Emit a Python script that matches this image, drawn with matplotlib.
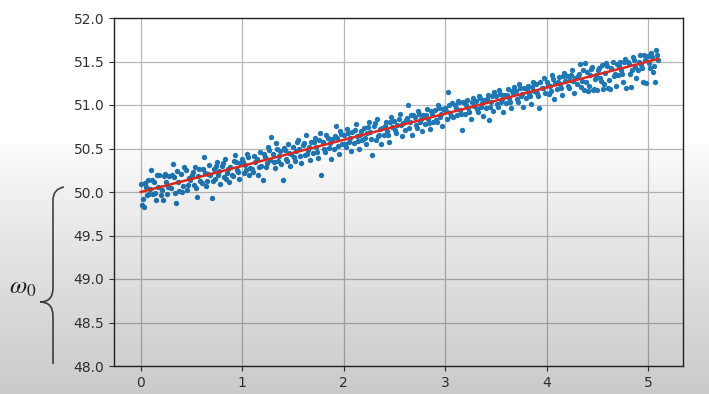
import numpy as np
import matplotlib
matplotlib.use("Agg")
import matplotlib.pyplot as plt
from matplotlib.path import Path
from matplotlib.patches import PathPatch

plt.rcParams["mathtext.fontset"] = "stix"

# measured samples: time t and value omega
t_obs = [
    0.00, 0.01, 0.02, 0.03, 0.05, 0.07, 0.08,
    0.10, 0.12, 0.13, 0.15, 0.17, 0.18,
    0.20, 0.22, 0.23, 0.25, 0.27, 0.28,
    0.30, 0.32, 0.33, 0.35, 0.37, 0.38,
    0.40, 0.42, 0.43, 0.45, 0.47, 0.48,
    0.50, 0.52, 0.53, 0.55, 0.57, 0.58,
    0.60, 0.62, 0.63, 0.65, 0.67, 0.68,
    0.70, 0.72, 0.73, 0.75, 0.77, 0.78,
    0.80, 0.82, 0.83, 0.85, 0.87, 0.88,
    0.90, 0.92, 0.93, 0.95, 0.97, 0.98,
    1.00, 1.02, 1.03, 1.05, 1.07, 1.08,
    1.10, 1.12, 1.13, 1.15, 1.17, 1.18,
    1.20, 1.22, 1.23, 1.25, 1.27, 1.28,
    1.30, 1.32, 1.33, 1.35, 1.37, 1.38,
    1.40, 1.42, 1.43, 1.45, 1.47, 1.48,
    1.50, 1.52, 1.53, 1.55, 1.57, 1.58,
    1.60, 1.62, 1.63, 1.65, 1.67, 1.68,
    1.70, 1.72, 1.73, 1.75, 1.77, 1.78,
    1.80, 1.82, 1.83, 1.85, 1.87, 1.88,
    1.90, 1.92, 1.93, 1.95, 1.97, 1.98,
    2.00, 2.02, 2.03, 2.05, 2.07, 2.08,
    2.10, 2.12, 2.13, 2.15, 2.17, 2.18,
    2.20, 2.22, 2.23, 2.25, 2.27, 2.28,
    2.30, 2.32, 2.33, 2.35, 2.37, 2.38,
    2.40, 2.42, 2.43, 2.45, 2.47, 2.48,
    2.50, 2.52, 2.53, 2.55, 2.57, 2.58,
    2.60, 2.62, 2.63, 2.65, 2.67, 2.68,
    2.70, 2.72, 2.73, 2.75, 2.77, 2.78,
    2.80, 2.82, 2.83, 2.85, 2.87, 2.88,
    2.90, 2.92, 2.93, 2.95, 2.97, 2.98,
    3.00, 3.02, 3.03, 3.05, 3.07, 3.08,
    3.10, 3.12, 3.13, 3.15, 3.17, 3.18,
    3.20, 3.22, 3.23, 3.25, 3.27, 3.28,
    3.30, 3.32, 3.33, 3.35, 3.37, 3.38,
    3.40, 3.42, 3.43, 3.45, 3.47, 3.48,
    3.50, 3.52, 3.53, 3.55, 3.57, 3.58,
    3.60, 3.62, 3.63, 3.65, 3.67, 3.68,
    3.70, 3.72, 3.73, 3.75, 3.77, 3.78,
    3.80, 3.82, 3.83, 3.85, 3.87, 3.88,
    3.90, 3.92, 3.93, 3.95, 3.97, 3.98,
    4.00, 4.02, 4.03, 4.05, 4.07, 4.08,
    4.10, 4.12, 4.13, 4.15, 4.17, 4.18,
    4.20, 4.22, 4.23, 4.25, 4.27, 4.28,
    4.30, 4.32, 4.33, 4.35, 4.37, 4.38,
    4.40, 4.41, 4.42, 4.43, 4.45, 4.46, 4.47, 4.48,
    4.50, 4.52, 4.53, 4.55, 4.56, 4.57, 4.58,
    4.60, 4.61, 4.62, 4.63, 4.65, 4.67, 4.68,
    4.70, 4.72, 4.73, 4.75, 4.77, 4.78,
    4.80, 4.82, 4.83, 4.85, 4.87, 4.88,
    4.90, 4.92, 4.93, 4.95, 4.97, 4.98,
    5.00, 5.02, 5.03, 5.05, 5.07, 5.08, 5.10,
    0.04, 0.06, 0.09, 0.11, 0.14, 0.16, 0.21, 0.24, 0.26,
    0.31, 0.34, 0.36, 0.41, 0.44, 0.46, 0.51, 0.54, 0.56,
    0.61, 0.64, 0.66, 0.71, 0.74, 0.76, 0.81, 0.84, 0.86,
    0.91, 0.94, 0.96, 1.01, 1.04, 1.06, 1.11, 1.14, 1.16,
    1.21, 1.24, 1.26, 1.31, 1.34, 1.36, 1.41, 1.44, 1.46,
    1.51, 1.54, 1.56, 1.61, 1.64, 1.66, 1.71, 1.74, 1.76,
    1.81, 1.84, 1.86, 1.91, 1.94, 1.96, 2.01, 2.04, 2.06,
    2.11, 2.14, 2.16, 2.21, 2.24, 2.26, 2.31, 2.34, 2.36,
    2.41, 2.44, 2.46, 2.51, 2.54, 2.56, 2.61, 2.64, 2.66,
    2.71, 2.74, 2.76, 2.81, 2.84, 2.86, 2.91, 2.94, 2.96,
    3.01, 3.04, 3.06, 3.11, 3.14, 3.16, 3.21, 3.24, 3.26,
    3.31, 3.34, 3.36, 3.41, 3.44, 3.46, 3.51, 3.54, 3.56,
    3.61, 3.64, 3.66, 3.71, 3.74, 3.76, 3.81, 3.84, 3.86,
    3.91, 3.94, 3.96, 4.01, 4.04, 4.06, 4.11, 4.14, 4.16,
    4.21, 4.24, 4.26, 4.31, 4.34, 4.36, 4.39, 4.44, 4.49,
    4.51, 4.54, 4.59, 4.64, 4.66, 4.69, 4.71, 4.74, 4.76,
    4.81, 4.84, 4.86, 4.91, 4.94, 4.96, 5.01, 5.04, 5.06, 5.09,
]

omega_obs = [
    50.09, 49.85, 49.92, 49.83, 50.06, 50.14, 49.98,
    50.25, 49.98, 50.11, 49.91, 50.06, 50.19,
    49.97, 49.91, 50.18, 50.11, 50.06, 50.18,
    50.05, 50.32, 50.17, 49.87, 50.12, 50.01,
    50.21, 50.07, 50.29, 50.02, 50.16, 50.14,
    50.20, 50.08, 50.29, 49.94, 50.27, 50.13,
    50.10, 50.40, 50.22, 50.13, 50.31, 50.19,
    49.93, 50.27, 50.15, 50.34, 50.24, 50.09,
    50.30, 50.17, 50.38, 50.22, 50.12, 50.29,
    50.20, 50.36, 50.43, 50.25, 50.15, 50.33,
    50.38, 50.22, 50.31, 50.44, 50.19, 50.28,
    50.26, 50.41, 50.35, 50.20, 50.46, 50.30,
    50.14, 50.40, 50.29, 50.52, 50.37, 50.63,
    50.44, 50.28, 50.56, 50.36, 50.47, 50.32,
    50.14, 50.48, 50.38, 50.55, 50.30, 50.44,
    50.52, 50.36, 50.47, 50.60, 50.41, 50.33,
    50.54, 50.42, 50.66, 50.48, 50.37, 50.57,
    50.45, 50.62, 50.52, 50.39, 50.68, 50.20,
    50.58, 50.46, 50.65, 50.51, 50.38, 50.61,
    50.50, 50.76, 50.62, 50.44, 50.67, 50.55,
    50.66, 50.52, 50.72, 50.58, 50.47, 50.69,
    50.56, 50.78, 50.64, 50.50, 50.70, 50.60,
    50.73, 50.55, 50.68, 50.80, 50.61, 50.43,
    50.76, 50.60, 50.84, 50.66, 50.55, 50.74,
    50.65, 50.81, 50.70, 50.58, 50.86, 50.75,
    50.82, 50.68, 50.77, 50.90, 50.64, 50.79,
    50.71, 50.85, 51.00, 50.80, 50.66, 50.88,
    50.86, 50.74, 50.93, 50.80, 50.70, 50.89,
    50.78, 50.95, 50.84, 50.72, 50.90, 50.81,
    50.94, 50.80, 51.00, 50.86, 50.76, 50.95,
    50.97, 50.84, 51.15, 50.91, 51.02, 50.86,
    51.00, 50.88, 51.05, 50.94, 50.71, 51.03,
    50.90, 51.06, 50.97, 50.84, 51.08, 50.99,
    51.05, 50.92, 51.10, 50.98, 50.87, 51.06,
    50.96, 51.12, 50.83, 51.04, 50.93, 51.15,
    51.10, 50.98, 51.17, 51.03, 50.92, 51.12,
    51.02, 51.18, 51.08, 50.96, 51.14, 51.21,
    51.16, 51.03, 51.24, 51.10, 50.98, 51.19,
    51.08, 51.22, 51.13, 51.01, 51.26, 51.16,
    51.24, 51.10, 50.97, 51.20, 51.31, 51.14,
    51.27, 51.13, 51.22, 51.34, 51.07, 51.25,
    51.18, 51.32, 51.24, 51.11, 51.37, 51.28,
    51.33, 51.19, 51.29, 51.40, 51.14, 51.31,
    51.24, 51.36, 51.47, 51.28, 51.17, 51.48,
    51.38, 51.16, 51.22, 51.34, 51.44, 51.17, 51.18, 51.30,
    51.17, 51.42, 51.31, 51.46, 51.18, 51.24, 51.37,
    51.45, 51.19, 51.29, 51.18, 51.49, 51.36, 51.22,
    51.34, 51.50, 51.40, 51.27, 51.53, 51.20,
    51.50, 51.36, 51.21, 51.55, 51.44, 51.31,
    51.40, 51.57, 51.46, 51.26, 51.52, 51.25,
    51.56, 51.43, 51.60, 51.38, 51.26, 51.63, 51.52,
    50.10, 49.96, 50.04, 50.14, 49.99, 50.20, 50.02, 50.21, 49.98,
    50.19, 49.99, 50.24, 50.00, 50.25, 50.08, 50.23, 50.05, 50.18,
    50.26, 50.07, 50.21, 50.13, 50.30, 50.19, 50.33, 50.15, 50.27,
    50.18, 50.34, 50.23, 50.35, 50.25, 50.40, 50.23, 50.38, 50.29,
    50.44, 50.33, 50.48, 50.34, 50.50, 50.41, 50.51, 50.36, 50.45,
    50.40, 50.57, 50.49, 50.56, 50.44, 50.52, 50.57, 50.46, 50.60,
    50.49, 50.62, 50.56, 50.64, 50.53, 50.70, 50.55, 50.68, 50.62,
    50.71, 50.59, 50.66, 50.62, 50.75, 50.69, 50.79, 50.64, 50.72,
    50.76, 50.66, 50.80, 50.71, 50.84, 50.77, 50.83, 50.74, 50.89,
    50.77, 50.90, 50.84, 50.88, 50.79, 50.93, 50.83, 50.97, 50.90,
    50.93, 51.00, 50.87, 50.97, 51.03, 50.90, 51.00, 50.92, 51.04,
    50.95, 51.08, 51.02, 51.07, 50.98, 51.10, 51.01, 51.13, 51.07,
    51.12, 51.04, 51.16, 51.07, 51.19, 51.13, 51.18, 51.10, 51.21,
    51.14, 51.26, 51.19, 51.23, 51.16, 51.30, 51.27, 51.20, 51.33,
    51.22, 51.35, 51.28, 51.33, 51.21, 51.40, 51.27, 51.41, 51.35,
    51.40, 51.28, 51.48, 51.42, 51.33, 51.47, 51.45, 51.36, 51.49,
    51.47, 51.40, 51.52, 51.50, 51.43, 51.58, 51.48, 51.55, 51.45, 51.58,
]

# fitted trend line end points
t_fit = [0.0, 5.1]
omega_fit = [50.0, 51.53]

x_ticks = [0, 1, 2, 3, 4, 5]
y_ticks = [48.0, 48.5, 49.0, 49.5, 50.0, 50.5, 51.0, 51.5, 52.0]

W, H = 709, 394
fig = plt.figure(figsize=(W / 100, H / 100), dpi=100)
fig.patch.set_facecolor("white")

ax = fig.add_axes([114 / W, 1 - 366 / H, (683 - 114) / W, (366 - 18) / H])
ax.scatter(t_obs, omega_obs, s=15, color="#1f77b4", linewidths=0, zorder=3)
ax.plot(t_fit, omega_fit, color="#e0281e", lw=1.8, zorder=4)

ax.set_ylim(48.0, 52.0)
ax.set_xlim(-0.265, 5.345)
ax.set_xticks(x_ticks)
ax.set_yticks(y_ticks)
ax.set_yticklabels([f"{v:.1f}" for v in y_ticks])
ax.grid(True, color="#b8b8b8", lw=0.9)
ax.set_axisbelow(True)
ax.tick_params(labelsize=10, colors="#333333", length=3.5)
for sp in ax.spines.values():
    sp.set_color("#222222")
    sp.set_linewidth(1.0)

# brace and symbol on the left, drawn in pixel coordinates
deco = fig.add_axes([0, 0, 1, 1], zorder=5)
deco.set_xlim(0, W)
deco.set_ylim(H, 0)
deco.axis("off")
deco.patch.set_alpha(0)
verts = [
    (64, 187), (53, 189), (53, 200),
    (53, 288),
    (53, 302), (40, 302),
    (53, 302), (53, 316),
    (53, 364),
]
codes = [
    Path.MOVETO, Path.CURVE3, Path.CURVE3,
    Path.LINETO,
    Path.CURVE3, Path.CURVE3,
    Path.CURVE3, Path.CURVE3,
    Path.LINETO,
]
deco.add_patch(PathPatch(Path(verts, codes), fill=False, lw=1.2, ec="#444444"))
deco.text(23, 287, r"$\omega_0$", fontsize=18, ha="center", va="center",
          color="#222222")

# soft grey shading towards the bottom
shade = fig.add_axes([0, 0, 1, 1], zorder=10)
shade.axis("off")
yy = np.linspace(0, 1, H)[:, None]
a = np.clip((yy * H - 140) / (H - 140), 0, 1) ** 0.8 * 0.23
rgba = np.zeros((H, 1, 4))
rgba[..., 0] = 0.08
rgba[..., 1] = 0.1
rgba[..., 2] = 0.08
rgba[..., 3] = a
shade.imshow(rgba, extent=[0, 1, 0, 1], aspect="auto", origin="upper")

fig.savefig("out.png", dpi=100)
